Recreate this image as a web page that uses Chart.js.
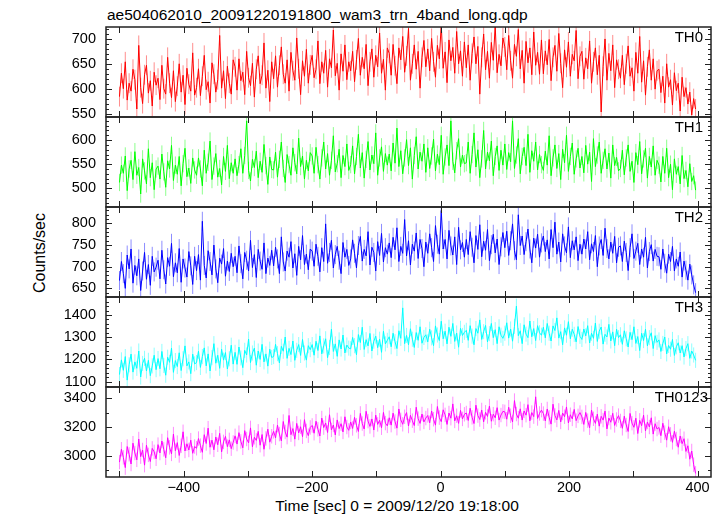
<!DOCTYPE html>
<html lang="en">
<head>
<meta charset="UTF-8" />
<title>WAM 4-band light curve</title>
<script src="https://cdn.jsdelivr.net/npm/chart.js"></script>
<style>
  body { margin: 0; width: 723px; height: 516px; overflow: hidden; background: #fff;
         font-family: "Liberation Sans", Arial, sans-serif; color: #000; position: relative; }
  .panel { position: absolute; left: 0; width: 723px; }
  .txt { position: absolute; white-space: nowrap; line-height: 18px; }
  #title { left: 107px; top: 6px; font-size: 15.5px; }
  #ylab { left: 40px; top: 253px; font-size: 16px; transform: translate(-50%, -50%) rotate(-90deg); }
  #xlab { left: 397px; top: 506px; font-size: 15.5px; transform: translate(-50%, -50%); }
  .band { font-size: 15px; transform: translate(-100%, -50%); }
</style>
</head>
<body>
<div class="txt" id="title">ae504062010_20091220191800_wam3_trn_4band_long.qdp</div>
<div class="txt" id="ylab">Counts/sec</div>
<div class="txt" id="xlab">Time [sec] 0 = 2009/12/20 19:18:00</div>

<script>
  const times = [
    -500,-497,-494,-491,-488,-485,-482,-479,-476,-473,-470,-467,-464,-461,-458,-455,-452,-449,-446,-443,
    -440,-437,-434,-431,-428,-425,-422,-419,-416,-413,-410,-407,-404,-401,-398,-395,-392,-389,-386,-383,
    -380,-377,-374,-371,-368,-365,-362,-359,-356,-353,-350,-347,-344,-341,-338,-335,-332,-329,-326,-323,
    -320,-317,-314,-311,-308,-305,-302,-299,-296,-293,-290,-287,-284,-281,-278,-275,-272,-269,-266,-263,
    -260,-257,-254,-251,-248,-245,-242,-239,-236,-233,-230,-227,-224,-221,-218,-215,-212,-209,-206,-203,
    -200,-197,-194,-191,-188,-185,-182,-179,-176,-173,-170,-167,-164,-161,-158,-155,-152,-149,-146,-143,
    -140,-137,-134,-131,-128,-125,-122,-119,-116,-113,-110,-107,-104,-101,-98,-95,-92,-89,-86,-83,
    -80,-77,-74,-71,-68,-65,-62,-59,-56,-53,-50,-47,-44,-41,-38,-35,-32,-29,-26,-23,
    -20,-17,-14,-11,-8,-5,-2,1,4,7,10,13,16,19,22,25,28,31,34,37,
    40,43,46,49,52,55,58,61,64,67,70,73,76,79,82,85,88,91,94,97,
    100,103,106,109,112,115,118,121,124,127,130,133,136,139,142,145,148,151,154,157,
    160,163,166,169,172,175,178,181,184,187,190,193,196,199,202,205,208,211,214,217,
    220,223,226,229,232,235,238,241,244,247,250,253,256,259,262,265,268,271,274,277,
    280,283,286,289,292,295,298,301,304,307,310,313,316,319,322,325,328,331,334,337,
    340,343,346,349,352,355,358,361,364,367,370,373,376,379,382,385,388,391,394,397
  ];

  const th0 = [
    585,632,601,655,578,612,596,640,619,560,688,603,571,629,648,592,617,566,634,608,
    622,579,648,601,590,664,612,583,637,575,606,651,594,628,569,642,610,596,673,588,
    603,641,587,626,668,599,615,572,653,630,594,619,708,602,637,581,646,612,590,659,
    645,598,661,617,634,589,676,623,607,652,584,640,667,611,628,693,602,638,575,655,
    621,667,604,648,685,630,612,659,596,674,637,618,703,641,589,657,626,680,612,649,
    668,623,640,697,611,655,632,678,604,661,643,719,627,652,598,671,636,689,619,655,
    637,676,615,659,702,628,664,641,690,607,655,681,624,668,645,713,632,660,598,683,
    672,628,690,647,611,683,659,706,634,667,722,618,651,689,640,676,602,664,698,645,
    681,637,702,655,624,688,661,730,642,675,613,699,657,684,632,716,651,677,626,695,
    643,689,618,672,705,651,686,590,664,711,639,676,622,694,658,728,633,670,647,703,
    685,639,708,657,622,690,666,720,641,678,612,696,653,683,629,715,648,674,630,699,
    631,677,649,700,617,664,688,636,712,652,603,679,644,695,626,670,657,718,621,666,
    676,620,663,641,697,612,655,683,629,668,554,646,701,618,672,637,689,603,659,640,
    622,668,609,651,687,626,643,596,674,632,706,614,657,588,645,679,618,661,600,637,
    640,593,626,572,651,604,619,568,633,597,612,556,624,585,603,570,594,548,581,560
  ];

  const th1 = [
    512,548,531,567,495,540,558,518,576,527,543,488,561,536,509,582,522,553,497,540,
    546,519,571,534,502,557,540,589,516,548,529,566,505,551,583,524,542,510,563,538,
    527,563,540,505,579,531,554,598,518,546,572,523,541,507,566,535,589,520,553,531,
    561,526,549,582,531,568,640,537,515,560,543,577,522,556,533,591,547,508,565,539,
    538,575,523,560,596,541,512,570,549,527,584,553,530,604,545,567,519,558,536,574,
    567,531,585,549,519,563,596,540,572,527,558,609,534,551,581,522,568,545,592,537,
    549,588,530,566,612,542,574,521,560,597,538,569,551,615,527,563,586,535,572,548,
    571,536,594,552,625,545,578,530,563,601,547,584,519,568,607,540,575,556,592,533,
    584,541,567,602,536,571,549,610,529,565,590,547,640,556,532,578,603,544,569,551,
    553,596,531,570,615,544,580,522,561,620,540,575,557,598,526,566,588,537,579,548,
    592,539,574,555,640,541,569,603,530,566,585,547,612,533,578,556,596,538,570,549,
    537,577,548,609,526,563,590,541,572,518,581,553,610,535,566,594,529,561,583,542,
    566,532,589,550,575,514,603,545,569,596,531,558,582,540,573,521,590,547,564,536,
    541,579,528,563,590,535,556,512,574,549,597,530,561,583,521,566,544,588,527,558,
    548,513,566,531,583,522,550,497,561,529,545,509,568,520,537,503,551,514,526,496
  ];

  const th2 = [
    668,712,684,650,727,695,741,662,703,679,718,645,690,733,671,705,657,724,688,699,
    715,672,738,693,660,721,701,754,677,709,686,742,664,718,697,676,735,702,659,724,
    691,728,669,805,703,674,737,712,681,750,695,663,720,706,742,678,713,689,731,700,
    724,686,748,707,672,733,715,690,761,698,728,675,740,713,694,755,684,720,703,738,
    702,745,718,684,769,711,690,736,722,758,697,730,680,747,716,772,705,729,693,741,
    736,701,752,724,688,744,712,799,708,733,761,697,728,747,715,684,756,722,740,703,
    718,762,731,697,749,770,713,740,725,781,704,745,733,690,758,726,777,711,744,729,
    755,721,768,739,790,712,747,731,809,725,760,704,752,736,778,719,763,742,700,757,
    731,776,744,712,795,752,729,830,741,763,718,784,748,727,769,705,791,739,756,722,
    763,728,781,745,709,772,740,797,723,759,738,786,714,751,775,732,764,705,746,779,
    744,782,726,760,799,737,716,820,749,771,728,758,787,741,709,766,743,775,722,755,
    771,735,762,718,786,744,803,729,757,711,776,748,732,792,721,760,739,769,714,752,
    729,764,741,781,716,753,735,772,700,748,763,726,789,742,718,757,731,770,709,745,
    748,712,759,733,691,744,776,719,736,754,705,741,722,768,697,735,751,713,740,724,
    723,694,741,708,685,729,712,747,690,718,701,734,676,713,692,669,706,681,658,640
  ];

  const th3 = [
    1132,1198,1151,1213,1107,1176,1224,1143,1189,1160,1238,1121,1182,1205,1148,1196,1127,1171,1219,1154,
    1204,1158,1236,1173,1129,1210,1187,1251,1142,1195,1168,1230,1150,1203,1261,1171,1189,1136,1224,1180,
    1186,1237,1164,1213,1252,1171,1225,1148,1208,1271,1183,1219,1160,1246,1197,1231,1157,1203,1264,1179,
    1232,1178,1256,1207,1163,1241,1220,1292,1186,1229,1251,1174,1238,1200,1268,1189,1225,1170,1246,1209,
    1213,1268,1226,1184,1259,1237,1301,1205,1250,1222,1283,1196,1241,1267,1218,1290,1229,1197,1262,1244,
    1267,1219,1282,1240,1306,1225,1261,1293,1208,1254,1336,1236,1270,1214,1288,1247,1310,1229,1265,1251,
    1248,1299,1262,1221,1312,1276,1345,1245,1289,1261,1317,1238,1282,1305,1253,1291,1232,1327,1270,1286,
    1302,1257,1318,1280,1249,1329,1295,1432,1271,1308,1266,1338,1291,1254,1321,1286,1347,1273,1299,1311,
    1279,1336,1297,1262,1351,1310,1285,1372,1293,1327,1270,1345,1304,1362,1281,1319,1255,1340,1308,1322,
    1331,1286,1352,1305,1266,1339,1318,1378,1290,1325,1353,1279,1316,1362,1298,1334,1271,1347,1309,1295,
    1318,1365,1296,1337,1282,1349,1440,1307,1329,1271,1356,1314,1298,1373,1302,1339,1285,1352,1320,1309,
    1345,1297,1362,1318,1283,1351,1330,1387,1296,1325,1266,1342,1309,1370,1293,1336,1313,1279,1348,1304,
    1290,1337,1306,1352,1274,1318,1295,1364,1281,1327,1346,1269,1313,1301,1358,1283,1324,1262,1336,1298,
    1311,1268,1329,1293,1256,1322,1289,1347,1272,1303,1240,1318,1285,1336,1261,1298,1320,1249,1307,1277,
    1288,1236,1272,1301,1225,1263,1246,1290,1218,1257,1275,1229,1262,1211,1249,1271,1205,1238,1220,1196
  ];

  const th0123 = [
    2958,3047,2991,2920,3066,3012,2945,3089,3021,2974,3118,2996,3042,2937,3075,3008,2962,3053,3029,2981,
    3079,3021,3104,3046,2988,3127,3060,3015,3152,3037,3093,3004,3071,3168,3035,3085,3042,3110,3019,3066,
    3054,3121,3072,3026,3148,3087,3193,3061,3110,3043,3132,3078,3157,3029,3098,3136,3065,3112,3051,3094,
    3140,3083,3162,3101,3057,3176,3118,3091,3195,3064,3130,3108,3171,3075,3149,3047,3122,3186,3096,3137,
    3171,3126,3214,3152,3105,3239,3167,3131,3281,3148,3190,3117,3226,3160,3203,3134,3252,3174,3141,3198,
    3212,3158,3241,3185,3139,3263,3197,3229,3163,3286,3181,3215,3146,3250,3190,3224,3167,3272,3201,3178,
    3236,3191,3268,3213,3170,3295,3225,3187,3310,3242,3205,3257,3180,3283,3219,3248,3196,3302,3228,3209,
    3265,3214,3297,3239,3193,3326,3251,3220,3272,3301,3208,3282,3245,3211,3338,3259,3226,3291,3236,3263,
    3281,3230,3312,3255,3214,3343,3266,3238,3320,3285,3219,3298,3262,3361,3243,3279,3226,3316,3257,3289,
    3298,3246,3331,3268,3225,3352,3280,3253,3319,3237,3303,3274,3346,3241,3290,3265,3335,3249,3284,3309,
    3306,3255,3338,3279,3236,3384,3291,3262,3327,3249,3312,3283,3356,3244,3301,3273,3410,3260,3295,3318,
    3294,3243,3326,3268,3221,3359,3281,3250,3316,3236,3298,3272,3340,3229,3286,3257,3323,3245,3278,3301,
    3271,3219,3302,3245,3196,3318,3258,3226,3290,3207,3275,3249,3311,3188,3263,3234,3296,3212,3253,3280,
    3243,3192,3276,3215,3170,3295,3228,3199,3262,3156,3247,3210,3283,3174,3236,3201,3265,3152,3224,3187,
    3198,3141,3227,3162,3110,3203,3150,3095,3172,3118,3061,3139,3086,3120,3032,3071,2978,3035,2940,2880
  ];

  const bandNames = ['TH0', 'TH1', 'TH2', 'TH3', 'TH0123'];
  const bandSeries = [th0, th1, th2, th3, th0123];
  const bandColors = ['#ff0000', '#00ff00', '#0000ff', '#00ffff', '#ff00ff'];
  const errColors = ['rgba(255,0,0,0.45)', 'rgba(0,255,0,0.45)', 'rgba(0,0,255,0.45)',
                     'rgba(0,255,255,0.45)', 'rgba(255,0,255,0.45)'];
  const errHalf = [20, 18, 22, 34, 50];
  const yMins = [544, 461, 630, 1076, 2855];
  const yMaxs = [725, 648, 838, 1481, 3478];
  const yTicks = [[550, 600, 650, 700], [500, 550, 600], [650, 700, 750, 800],
                  [1100, 1200, 1300, 1400], [3000, 3200, 3400]];
  const yMinorSteps = [10, 10, 10, 20, 100];
  const xTickLabels = [-400, -200, 0, 200, 400];
  const xTickMarks = [-500, -400, -300, -200, -100, 0, 100, 200, 300, 400];

  const panelTops = [27, 117, 207, 297, 387];
  const panelH = 90;
  const pad = 10;
  const fontFam = '"Liberation Sans", Arial, sans-serif';

  // error bars behind the line, box + inward ticks on top
  const framePlugin = {
    id: 'frame',
    beforeDatasetsDraw(chart) {
      const o = chart.options.plugins.frame;
      const { ctx, chartArea: a } = chart;
      const xs = chart.scales.x, ys = chart.scales.y;
      ctx.save();
      ctx.beginPath();
      ctx.rect(a.left, a.top, a.width, a.height);
      ctx.clip();
      ctx.strokeStyle = o.errColor;
      ctx.lineWidth = 1;
      ctx.beginPath();
      chart.data.datasets[0].data.forEach(p => {
        const x = xs.getPixelForValue(p.x);
        ctx.moveTo(x, ys.getPixelForValue(p.y - o.err));
        ctx.lineTo(x, ys.getPixelForValue(p.y + o.err));
      });
      ctx.stroke();
      ctx.restore();
    },
    afterDraw(chart) {
      const o = chart.options.plugins.frame;
      const { ctx, chartArea: a } = chart;
      const xs = chart.scales.x, ys = chart.scales.y;
      ctx.save();
      ctx.strokeStyle = '#222';
      ctx.lineWidth = 1;
      ctx.beginPath();
      const first = Math.ceil(ys.min / o.minor) * o.minor;
      for (let v = first; v <= ys.max; v += o.minor) {
        const y = Math.round(ys.getPixelForValue(v)) + 0.5;
        const len = o.major.includes(v) ? 6 : 3;
        ctx.moveTo(a.left, y); ctx.lineTo(a.left + len, y);
        ctx.moveTo(a.right, y); ctx.lineTo(a.right - len, y);
      }
      xTickMarks.forEach(t => {
        const x = Math.round(xs.getPixelForValue(t)) + 0.5;
        ctx.moveTo(x, a.top); ctx.lineTo(x, a.top + 6);
        ctx.moveTo(x, a.bottom); ctx.lineTo(x, a.bottom - 6);
      });
      ctx.stroke();
      ctx.lineWidth = 1.5;
      ctx.strokeRect(a.left, a.top, a.width, a.height);
      ctx.restore();
    }
  };

  function makePanel(i) {
    const last = i === bandNames.length - 1;
    const wrap = document.createElement('div');
    wrap.className = 'panel';
    wrap.style.top = (panelTops[i] - pad) + 'px';
    const h = last ? 516 - (panelTops[i] - pad) : panelH + 2 * pad;
    wrap.style.height = h + 'px';
    const cv = document.createElement('canvas');
    wrap.appendChild(cv);
    document.body.appendChild(wrap);

    const lab = document.createElement('div');
    lab.className = 'txt band';
    lab.textContent = bandNames[i];
    lab.style.left = (last ? 708 : 703) + 'px';
    lab.style.top = (panelTops[i] + 10) + 'px';
    document.body.appendChild(lab);

    const vals = bandSeries[i];
    const xScale = {
      type: 'linear',
      min: -521,
      max: 421,
      display: last,
      grid: { display: false, drawTicks: false },
      border: { display: false },
      ticks: {
        autoSkip: false,
        maxRotation: 0,
        padding: 2,
        color: '#000',
        font: { family: fontFam, size: 14.5 },
        callback: v => (v < 0 ? '\u2212' + Math.abs(v) : String(v))
      }
    };
    if (last) {
      xScale.afterBuildTicks = s => { s.ticks = xTickLabels.map(v => ({ value: v })); };
      xScale.afterFit = s => {
        s.height = h - pad - panelH;
        s.paddingLeft = 0; s.paddingRight = 0;
      };
    }

    new Chart(cv, {
      type: 'line',
      data: {
        datasets: [{
          data: times.map((t, k) => ({ x: t, y: vals[k] })),
          borderColor: bandColors[i],
          borderWidth: 1,
          pointRadius: 0,
          tension: 0
        }]
      },
      options: {
        responsive: true,
        maintainAspectRatio: false,
        animation: false,
        events: [],
        layout: { padding: { left: 0, right: 12, top: pad, bottom: last ? 0 : pad } },
        plugins: {
          legend: { display: false },
          tooltip: { enabled: false },
          frame: { err: errHalf[i], errColor: errColors[i], minor: yMinorSteps[i], major: yTicks[i] }
        },
        scales: {
          x: xScale,
          y: {
            min: yMins[i],
            max: yMaxs[i],
            grid: { display: false, drawTicks: false },
            border: { display: false },
            afterBuildTicks: s => { s.ticks = yTicks[i].map(v => ({ value: v })); },
            afterFit: s => {
              s.width = 106;
              s.paddingTop = 0; s.paddingBottom = 0;
            },
            ticks: {
              autoSkip: false,
              padding: 10,
              color: '#000',
              font: { family: fontFam, size: 14.5 },
              callback: v => String(v)
            }
          }
        }
      },
      plugins: [framePlugin]
    });
  }

  bandNames.forEach((_, i) => makePanel(i));
</script>
</body>
</html>
